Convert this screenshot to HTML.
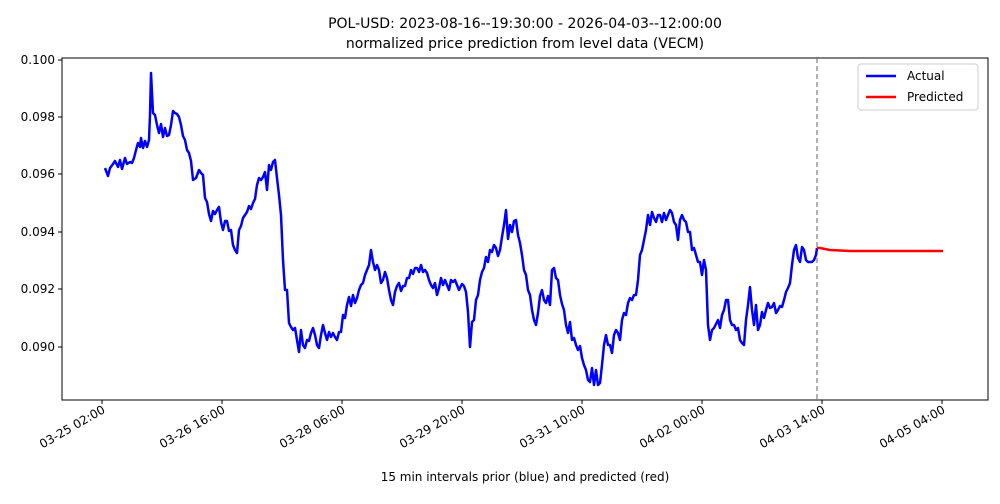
<!DOCTYPE html>
<html><head><meta charset="utf-8"><style>
body{margin:0;background:#fff;font-family:"DejaVu Sans","Liberation Sans",sans-serif;}
</style></head><body>
<svg width="1000" height="500" viewBox="0 0 1000 500" xmlns="http://www.w3.org/2000/svg" font-family="DejaVu Sans, Liberation Sans, sans-serif">
<rect width="1000" height="500" fill="#fff"/>
<text x="525" y="28" font-size="14" text-anchor="middle">POL-USD: 2023-08-16--19:30:00 - 2026-04-03--12:00:00</text>
<text x="525" y="48" font-size="14" text-anchor="middle">normalized price prediction from level data (VECM)</text>
<rect x="62" y="58" width="926" height="342" fill="none" stroke="#000" stroke-width="1"/>
<g font-size="12" text-anchor="end">
<line x1="58" x2="62" y1="60" y2="60" stroke="#000"/><text x="55" y="64">0.100</text>
<line x1="58" x2="62" y1="117" y2="117" stroke="#000"/><text x="55" y="121">0.098</text>
<line x1="58" x2="62" y1="174" y2="174" stroke="#000"/><text x="55" y="178">0.096</text>
<line x1="58" x2="62" y1="232" y2="232" stroke="#000"/><text x="55" y="236">0.094</text>
<line x1="58" x2="62" y1="289" y2="289" stroke="#000"/><text x="55" y="293">0.092</text>
<line x1="58" x2="62" y1="347" y2="347" stroke="#000"/><text x="55" y="351">0.090</text>
</g>
<g font-size="12" text-anchor="end">
<line x1="102" x2="102" y1="400" y2="404" stroke="#000"/><text transform="translate(106,412) rotate(-30)">03-25 02:00</text>
<line x1="222" x2="222" y1="400" y2="404" stroke="#000"/><text transform="translate(226,412) rotate(-30)">03-26 16:00</text>
<line x1="342" x2="342" y1="400" y2="404" stroke="#000"/><text transform="translate(346,412) rotate(-30)">03-28 06:00</text>
<line x1="462" x2="462" y1="400" y2="404" stroke="#000"/><text transform="translate(466,412) rotate(-30)">03-29 20:00</text>
<line x1="582" x2="582" y1="400" y2="404" stroke="#000"/><text transform="translate(586,412) rotate(-30)">03-31 10:00</text>
<line x1="702" x2="702" y1="400" y2="404" stroke="#000"/><text transform="translate(706,412) rotate(-30)">04-02 00:00</text>
<line x1="822" x2="822" y1="400" y2="404" stroke="#000"/><text transform="translate(826,412) rotate(-30)">04-03 14:00</text>
<line x1="942" x2="942" y1="400" y2="404" stroke="#000"/><text transform="translate(946,412) rotate(-30)">04-05 04:00</text>
</g>
<text x="525" y="481" font-size="12" text-anchor="middle">15 min intervals prior (blue) and predicted (red)</text>
<line x1="817" x2="817" y1="58" y2="400" stroke="#666" stroke-dasharray="5,3" stroke-width="1"/>
<polyline fill="none" stroke="#0000ff" stroke-width="2.5" stroke-linejoin="round" points="105,168 108,176 110,168 113,164 115,161 118,167 120,160 122,169 125,158 127,164 130,162 132,163 134,158 136,150 138,143 140,147 141,138 143,148 145,141 147,147 149,140 150,115 151,73 153,113 155,115 157,125 159,133 161,124 163,137 165,128 167,136 169,135 171,125 173,111 175,113 177,114 179,117 181,125 183,136 185,140 187,150 189,153 191,161 193,180 196,178 199,170 201,173 203,175 205,198 207,202 209,214 211,221 213,211 215,214 217,210 219,207 221,222 223,230 225,221 227,221 229,231 231,230 233,245 235,250 237,253 239,230 241,226 243,218 245,215 247,212 249,206 251,209 253,203 255,199 257,185 259,178 261,180 263,177 265,172 267,190 269,165 271,170 273,162 275,160 277,178 279,195 281,215 283,260 285,290 287,290 289,323 291,327 293,330 295,328 297,340 299,352 301,330 303,345 305,348 307,340 309,341 311,333 313,328 315,335 317,345 319,348 321,335 323,325 325,333 327,340 329,332 331,337 333,333 335,337 337,340 339,332 341,332 343,315 345,318 347,305 349,297 351,306 353,295 355,303 357,298 359,290 361,285 363,283 365,275 367,270 369,265 371,250 373,262 375,270 377,265 379,270 381,283 383,280 385,272 387,278 389,290 391,300 393,305 395,292 397,286 399,283 401,291 403,286 405,286 407,278 409,278 411,270 413,274 415,268 417,268 419,272 421,265 423,272 425,270 427,273 429,280 431,285 433,288 435,283 437,295 439,288 441,278 443,285 445,280 447,285 449,290 451,280 453,282 455,280 457,285 459,290 462,284 464,286 466,292 468,312 470,347 472,322 474,320 476,300 478,295 480,280 482,272 484,268 486,257 488,262 490,250 492,252 494,245 496,248 498,256 500,250 502,237 504,225 506,210 508,239 510,225 512,232 514,221 516,220 518,235 520,243 522,255 524,270 526,275 528,290 530,295 532,310 534,320 536,325 538,313 540,296 542,290 544,300 546,303 548,296 550,305 552,270 554,268 556,278 558,280 560,295 562,304 564,310 566,325 568,333 570,322 572,340 574,338 576,345 578,350 580,346 582,358 584,365 586,370 588,380 590,382 592,368 594,385 596,370 598,385 600,383 602,365 604,345 606,335 608,345 610,345 612,353 614,335 616,330 618,333 620,340 622,320 624,313 626,315 628,303 630,298 632,300 634,295 636,295 638,280 640,255 642,250 644,240 646,230 648,215 650,225 652,212 654,218 656,222 658,215 660,215 662,222 664,213 666,220 668,215 670,210 672,213 674,222 676,225 678,240 680,220 682,215 684,220 686,222 688,232 690,232 692,250 694,248 696,255 698,262 700,262 702,275 704,260 706,270 708,325 710,340 712,330 714,328 716,324 718,320 720,328 722,315 724,310 726,300 728,300 730,320 732,325 734,325 736,330 738,328 740,340 742,343 744,345 746,320 748,305 750,287 752,310 754,325 756,305 758,330 760,325 762,312 764,318 766,310 768,303 770,308 772,307 774,303 776,313 778,310 780,306 782,307 784,300 786,292 788,288 790,283 792,265 794,250 796,245 798,258 800,262 802,247 804,250 806,260 808,262 810,262 812,262 814,260 816,255 817,248"/>
<polyline fill="none" stroke="#ff0000" stroke-width="2.5" points="817,248 820,248 830,250 850,251 880,251 943,251"/>
<rect x="858" y="64" width="120" height="46" fill="#fff" stroke="#ccc" rx="3"/>
<line x1="866" x2="896" y1="76" y2="76" stroke="#0000ff" stroke-width="2.5"/>
<text x="907" y="80" font-size="12">Actual</text>
<line x1="866" x2="896" y1="97" y2="97" stroke="#ff0000" stroke-width="2.5"/>
<text x="907" y="101" font-size="12">Predicted</text>
</svg>
</body></html>
